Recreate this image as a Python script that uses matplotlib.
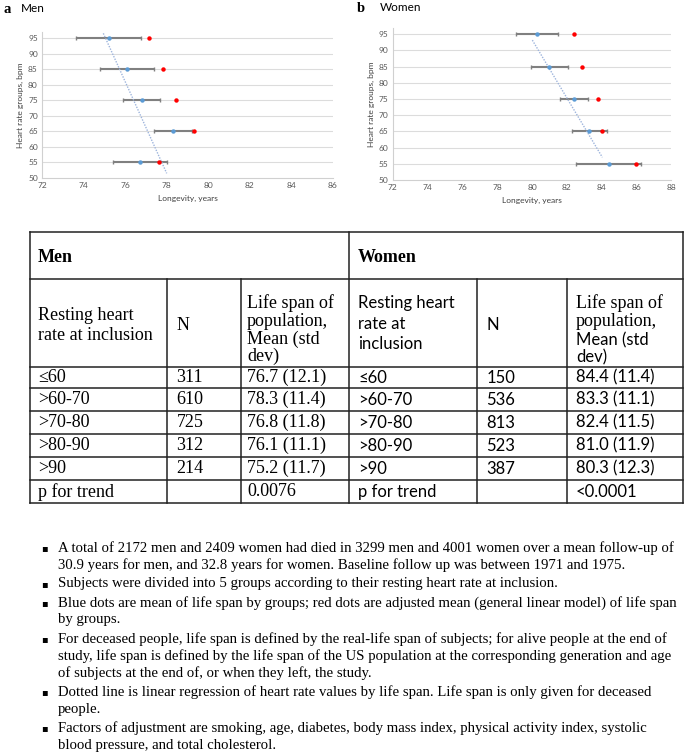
import matplotlib
matplotlib.use("Agg")
import matplotlib.pyplot as plt
from matplotlib.lines import Line2D

W, H = 685, 753
DPI = 100

# ---------------- data ----------------
hr_groups = [55, 65, 75, 85, 95]
men_mean = [76.7, 78.3, 76.8, 76.1, 75.2]
men_adj = [77.65, 79.3, 78.45, 77.82, 77.16]
men_err = [1.3, 0.9, 0.88, 1.3, 1.58]
men_reg_x = [74.95, 78.0]
men_reg_y = [96.5, 51.5]

women_mean = [84.4, 83.3, 82.4, 81.0, 80.3]
women_adj = [85.99, 84.0, 83.77, 82.87, 82.43]
women_err = [1.88, 0.98, 0.8, 1.05, 1.2]
women_reg_x = [80.02, 84.04]
women_reg_y = [93.2, 57.0]

yticks = [50, 55, 60, 65, 70, 75, 80, 85, 90, 95]
men_xticks = [72, 74, 76, 78, 80, 82, 84, 86]
women_xticks = [72, 74, 76, 78, 80, 82, 84, 86, 88]

table_groups = ["\u226460", ">60-70", ">70-80", ">80-90", ">90", "p for trend"]
men_n = ["311", "610", "725", "312", "214", ""]
men_life = ["76.7 (12.1)", "78.3 (11.4)", "76.8 (11.8)", "76.1 (11.1)", "75.2 (11.7)", "0.0076"]
women_n = ["150", "536", "813", "523", "387", ""]
women_life = ["84.4 (11.4)", "83.3 (11.1)", "82.4 (11.5)", "81.0 (11.9)", "80.3 (12.3)", "<0.0001"]

bullets = [
    ["A total of 2172 men and 2409 women had died in 3299 men and 4001 women over a mean follow-up of",
     "30.9 years for men, and 32.8 years for women. Baseline follow up was between 1971 and 1975."],
    ["Subjects were divided into 5 groups according to their resting heart rate at inclusion."],
    ["Blue dots are mean of life span by groups; red dots are adjusted mean (general linear model) of life span",
     "by groups."],
    ["For deceased people, life span is defined by the real-life span of subjects; for alive people at the end of",
     "study, life span is defined by the life span of the US population at the corresponding generation and age",
     "of subjects at the end of, or when they left, the study."],
    ["Dotted line is linear regression of heart rate values by life span. Life span is only given for deceased",
     "people."],
    ["Factors of adjustment are smoking, age, diabetes, body mass index, physical activity index, systolic",
     "blood pressure, and total cholesterol."],
]

SANS = ["Lato", "DejaVu Sans"]
SERIF = ["Liberation Serif", "DejaVu Serif"]

fig = plt.figure(figsize=(W / DPI, H / DPI), dpi=DPI)
fig.patch.set_facecolor("white")


def px_axes(x0, x1, y_top, y_bot):
    return fig.add_axes([x0 / W, 1 - y_bot / H, (x1 - x0) / W, (y_bot - y_top) / H])


def draw_panel(ax, mean, adj, err, regx, regy, xticks, xlim):
    ax.set_xlim(*xlim)
    ax.set_ylim(50, 97)
    ax.set_yticks(yticks)
    ax.set_xticks(xticks)
    for y in yticks[1:]:
        ax.axhline(y, color="#dcdcdc", lw=0.8, zorder=0)
    for s in ["top", "right"]:
        ax.spines[s].set_visible(False)
    for s in ["left", "bottom"]:
        ax.spines[s].set_color("#d0d0d0")
        ax.spines[s].set_linewidth(0.8)
    ax.tick_params(length=0, labelsize=6, labelcolor="#595959", pad=3)
    for lab in ax.get_xticklabels() + ax.get_yticklabels():
        lab.set_family(SANS)
    ax.errorbar(mean, hr_groups, xerr=err, fmt="none", ecolor="#808080",
                elinewidth=1.5, capsize=1.6, capthick=1.0, zorder=2)
    ax.plot(regx, regy, linestyle=(0, (1, 1)), color="#9db4dc", lw=1.0, zorder=3)
    ax.plot(mean, hr_groups, "o", color="#5b9bd5", ms=3.2, mec="none", zorder=4)
    ax.plot(adj, hr_groups, "o", color="#ff0000", ms=3.2, mec="none", zorder=5)
    ax.set_xlabel("Longevity, years", fontsize=6, family=SANS, color="#404040", labelpad=4)
    ax.set_ylabel("Heart rate groups, bpm", fontsize=6, family=SANS, color="#404040", labelpad=3)
    ax.set_facecolor("none")


ax1 = px_axes(42, 333, 38 - 2 * 3.111, 178)
draw_panel(ax1, men_mean, men_adj, men_err, men_reg_x, men_reg_y, men_xticks, (72, 86))
ax2 = px_axes(392.7, 671.3, 34.3 - 2 * 3.238, 180)
draw_panel(ax2, women_mean, women_adj, women_err, women_reg_x, women_reg_y, women_xticks, (72, 88))

# background overlay axes in pixel coordinates
bg = fig.add_axes([0, 0, 1, 1], zorder=-1)
bg.set_xlim(0, W)
bg.set_ylim(H, 0)
bg.axis("off")

# panel titles
bg.text(4, 9, "a", fontsize=10.5, fontweight="bold", family=SERIF, va="center")
bg.text(21, 8, "Men", fontsize=8.5, family=SANS, va="center")
bg.text(357, 8, "b", fontsize=10.5, fontweight="bold", family=SERIF, va="center")
bg.text(380, 7, "Women", fontsize=8.5, family=SANS, va="center")

# ---------------- table ----------------
cols = [30, 167.3, 240.7, 349.3, 477.3, 566.7, 683]
rows = [231.7, 279.3, 366.7, 388.3, 411, 434, 457.3, 480, 503.3]
lc = "#222222"
lw = 1.1
for y in rows:
    bg.add_line(Line2D([cols[0], cols[-1]], [y, y], color=lc, lw=lw))
for i, x in enumerate(cols):
    if i in (0, 3, 6):
        bg.add_line(Line2D([x, x], [rows[0], rows[-1]], color=lc, lw=lw))
    else:
        bg.add_line(Line2D([x, x], [rows[1], rows[-1]], color=lc, lw=lw))

TFS = 13
SFS = 12
bg.text(38, 257, "Men", fontsize=13, fontweight="bold", family=SERIF, va="center")
bg.text(358, 257, "Women", fontsize=13, fontweight="bold", family=SERIF, va="center")


def lines_text(x, ys, strs, fams):
    for y, s, f in zip(ys, strs, fams):
        bg.text(x, y, s, fontsize=(TFS if f is SERIF else SFS), family=f, va="center")


lines_text(38, [315, 335], ["Resting heart", "rate at inclusion"], [SERIF, SERIF])
lines_text(176.5, [325], ["N"], [SERIF])
lines_text(247, [303, 321, 339, 356], ["Life span of", "population,", "Mean (std", "dev)"], [SERIF] * 4)
lines_text(358, [303, 323.5, 344], ["Resting heart", "rate at", "inclusion"], [SANS] * 3)
lines_text(486.5, [325], ["N"], [SANS])
lines_text(576, [303, 321, 340, 357], ["Life span of", "population,", "Mean (std", "dev)"],
           [SERIF, SERIF, SANS, SANS])

for i in range(len(table_groups)):
    yc = (rows[2 + i] + rows[3 + i]) / 2
    bg.text(38, yc, table_groups[i], fontsize=TFS, family=SERIF, va="center")
    bg.text(176.5, yc, men_n[i], fontsize=TFS, family=SERIF, va="center")
    bg.text(247, yc, men_life[i], fontsize=TFS, family=SERIF, va="center")
    bg.text(358, yc, table_groups[i], fontsize=SFS, family=SANS, va="center")
    bg.text(486.5, yc, women_n[i], fontsize=SFS, family=SANS, va="center")
    bg.text(576, yc, women_life[i], fontsize=SFS, family=SANS, va="center")

# ---------------- bullets ----------------
BFS = 10.6
y = 548
for para in bullets:
    bg.text(41, y, "\u25aa", fontsize=7, family=["DejaVu Sans"], va="center")
    for ln in para:
        bg.text(58, y, ln, fontsize=BFS, family=SERIF, va="center")
        y += 17
    y += 2

fig.savefig("out.png", dpi=DPI)
